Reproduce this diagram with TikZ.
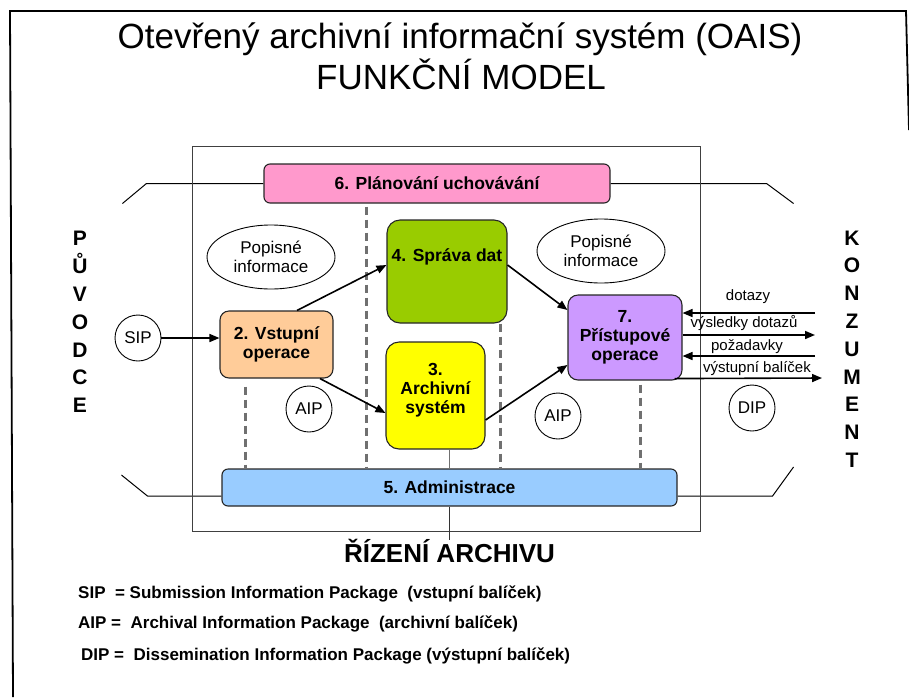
\documentclass[tikz,border=0pt]{standalone}
\usepackage{fontspec}
\setmainfont{Liberation Sans}
\usetikzlibrary{arrows.meta,shapes.geometric,backgrounds}
\definecolor{pinkplan}{HTML}{FF99CC}
\definecolor{blueadmin}{HTML}{99CCFF}
\definecolor{orangein}{HTML}{FFCC99}
\definecolor{greendata}{HTML}{99CC00}
\definecolor{yellowarch}{HTML}{FFFF00}
\definecolor{purpleacc}{HTML}{CC99FF}
\definecolor{dashgray}{HTML}{707070}
\begin{document}
\begin{tikzpicture}[x=1pt,y=-1pt,
  box/.style={draw=black!85, line width=1.1pt, inner sep=0pt, align=center,
    font=\bfseries\fontsize{17.5}{19}\selectfont},
  boxtext/.style={inner sep=0pt, align=center, font=\bfseries\fontsize{17.5}{19}\selectfont},
  circ/.style={circle, draw, line width=0.9pt, minimum size=46pt, inner sep=0pt,
    font=\fontsize{17}{19}\selectfont},
  ell/.style={ellipse, draw, line width=0.9pt, minimum width=128pt, minimum height=64pt,
    inner sep=0pt, align=center, font=\fontsize{17}{19}\selectfont},
  arr/.style={-{Triangle[length=10pt,width=8pt]}, line width=1.6pt},
  lbl/.style={inner sep=0pt, font=\fontsize{15}{17}\selectfont},
  dline/.style={draw=dashgray, line width=3pt, dash pattern=on 8pt off 5pt},
  gline/.style={draw=dashgray, line width=1.6pt},
  sideline/.style={line width=1pt},
  stack/.style={inner sep=0pt, align=center, font=\bfseries\fontsize{21}{27.8}\selectfont},
  titletext/.style={inner sep=0pt, font=\fontsize{35}{40}\selectfont},
  legend/.style={inner sep=0pt, anchor=base west, font=\bfseries\fontsize{17}{19}\selectfont}
]
\useasboundingbox (0,0) rectangle (909,697);

% slide frame and inner system boundary
\draw[line width=1.8pt] (13,697) -- (10,11) -- (906,11) -- (909,130);
\draw[line width=0.9pt, draw=black!75] (192,146) rectangle (700,531);

% title
\node[titletext, anchor=base] (t1) at (460,48) {Otevřený archivní informační systém (OAIS)};
\node[titletext, anchor=base] (t2) at (461,89) {FUNKČNÍ MODEL};

% functional entities
\node[box, fill=pinkplan, rounded corners=6pt, minimum width=346pt, minimum height=39pt]
  (b6) at (437,183.5) {6. Plánování uchovávání};
\node[box, fill=blueadmin, rounded corners=6pt, minimum width=455pt, minimum height=37pt]
  (b5) at (449.5,487.5) {5. Administrace};
\node[box, fill=orangein, rounded corners=9pt, minimum width=113pt, minimum height=67pt]
  (b2) at (276.5,344.5) {2. Vstupní\\operace};
\node[box, fill=greendata, rounded corners=13pt, minimum width=120pt, minimum height=103pt,
  label={[boxtext, yshift=14.5pt]center:4. Správa dat}]
  (b4) at (447,271.5) {};
\node[box, fill=yellowarch, rounded corners=13pt, minimum width=99pt, minimum height=107pt,
  label={[boxtext, yshift=5.5pt]center:3.\\Archivní\\systém}]
  (b3) at (435.5,395.5) {};
\node[box, fill=purpleacc, rounded corners=10pt, minimum width=114pt, minimum height=85pt]
  (b7) at (625,337.5) {7.\\Přístupové\\operace};

% packages and descriptive information
\node[circ] (sip) at (138,338) {SIP};
\node[circ] (aip1) at (309,409) {AIP};
\node[circ] (aip2) at (558,416) {AIP};
\node[circ] (dip) at (752,408) {DIP};
\node[ell] (pi1) at (271,257) {Popisné\\informace};
\node[ell] (pi2) at (601,251) {Popisné\\informace};

% producer and consumer
\node[stack] (puv) at (80,322) {P\\Ů\\V\\O\\D\\C\\E};
\node[stack] (kon) at (852,349) {K\\O\\N\\Z\\U\\M\\E\\N\\T};

% dashed administrative links
\begin{scope}[on background layer]
  \draw[dline] ([xshift=-31.5pt,yshift=-8pt]b2.south) -- ([xshift=-204.5pt]b5.north);
  \draw[dline] ([xshift=-71pt,yshift=-3pt]b6.south) -- ([xshift=-83.5pt]b5.north);
  \draw[dline] ([xshift=53pt]b4.south) -- ([xshift=50.5pt]b5.north);
  \draw[dline] ([xshift=15pt,yshift=-4pt]b7.south) -- ([xshift=190.5pt]b5.north);
  \draw[gline] (b3.south -| b5.north) -- (b5.north);
  \draw[sideline] (b6.west) -- ++(-117,0) -- ++(-24,20);
  \draw[sideline] (b6.east) -- ++(156,0) -- ++(27,20);
  \draw[sideline] ([yshift=-8.5pt]b5.west) -- ++(-74,0) -- ++(-26,-21);
  \draw[sideline] ([yshift=-8.5pt]b5.east) -- ++(95,0) -- ++(21,-29);
\end{scope}

% management
\node[inner sep=0pt, anchor=base, font=\bfseries\fontsize{26}{30}\selectfont]
  (riz) at (449.5,562) {ŘÍZENÍ ARCHIVU};
\draw[gline, draw=black!80, line width=1.2pt] (b5.south) -- ++(0,33);

% data flows
\draw[arr] (sip.east) -- (sip.east -| b2.west);
\draw[arr] ([xshift=20.5pt]b2.north) -- ([yshift=6.5pt]b4.west);
\draw[arr] ([xshift=43.5pt]b2.south) -- ([yshift=-17.5pt]b3.west);
\draw[arr] ([yshift=6.5pt]b4.east) -- ([yshift=27.5pt]b7.west);
\draw[arr] ([yshift=-24.5pt]b3.east) -- ([yshift=-27.5pt]b7.west);

% consumer dialogue
\coordinate (k1) at (815,313);
\coordinate (k2) at (815,335);
\coordinate (k3) at (815,356);
\coordinate (k4) at (822,378);
\draw[arr] (k1) -- (k1 -| b7.east);
\draw[arr] (b7.east |- k2) -- (k2);
\draw[arr] (k3) -- (k3 -| b7.east);
\draw[arr] ([shift={(-8pt,2pt)}]b7.south east) -- (k4);
\node[lbl] (l1) at (748,297) {dotazy};
\node[lbl] (l2) at (744,323) {výsledky dotazů};
\node[lbl] (l3) at (747,347) {požadavky};
\node[lbl] (l4) at (757,369) {výstupní balíček};

% legend
\node[legend] (lg1) at (78,598) {SIP\ \ = Submission Information Package\ \ (vstupní balíček)};
\node[legend] (lg2) at (78,628) {AIP =\ \ Archival Information Package\ \ (archivní balíček)};
\node[legend] (lg3) at (81,660) {DIP =\ \ Dissemination Information Package (výstupní balíček)};
\end{tikzpicture}
\end{document}
